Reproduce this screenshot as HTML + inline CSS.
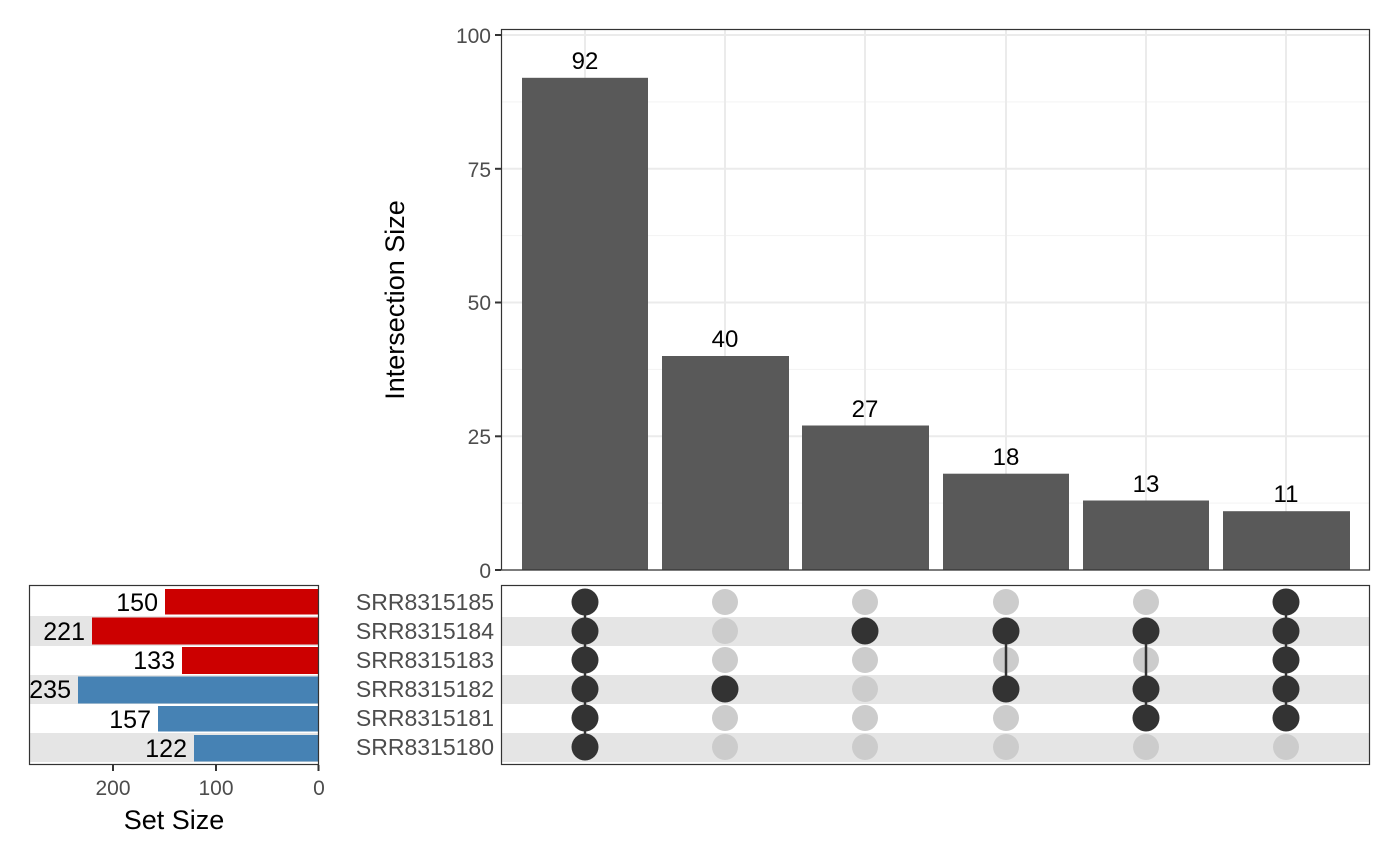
<!DOCTYPE html>
<html><head><meta charset="utf-8"><style>
html,body{margin:0;padding:0;background:#fff}
svg{display:block}
text{font-family:"Liberation Sans",Arial,sans-serif}
</style></head><body>
<svg width="1400" height="865" viewBox="0 0 1400 865" xmlns="http://www.w3.org/2000/svg">
<rect width="1400" height="865" fill="#fff"/>
<g>
  <g stroke="#f3f3f3" stroke-width="1">
    <line x1="501" x2="1370" y1="503.1" y2="503.1"/>
    <line x1="501" x2="1370" y1="369.4" y2="369.4"/>
    <line x1="501" x2="1370" y1="235.6" y2="235.6"/>
    <line x1="501" x2="1370" y1="101.9" y2="101.9"/>
  </g>
  <g stroke="#ebebeb" stroke-width="2">
    <line x1="501" x2="1370" y1="570" y2="570"/>
    <line x1="501" x2="1370" y1="436.3" y2="436.3"/>
    <line x1="501" x2="1370" y1="302.5" y2="302.5"/>
    <line x1="501" x2="1370" y1="168.8" y2="168.8"/>
    <line x1="501" x2="1370" y1="35" y2="35"/>
    <line x1="585" x2="585" y1="29" y2="570"/>
    <line x1="725" x2="725" y1="29" y2="570"/>
    <line x1="865" x2="865" y1="29" y2="570"/>
    <line x1="1006" x2="1006" y1="29" y2="570"/>
    <line x1="1146" x2="1146" y1="29" y2="570"/>
    <line x1="1286" x2="1286" y1="29" y2="570"/>
  </g>
  <g fill="#595959">
    <rect x="522" y="77.8" width="126" height="492.2"/>
    <rect x="662" y="356" width="127" height="214"/>
    <rect x="802" y="425.5" width="127" height="144.5"/>
    <rect x="943" y="473.7" width="126" height="96.3"/>
    <rect x="1083" y="500.5" width="126" height="69.5"/>
    <rect x="1223" y="511.2" width="127" height="58.8"/>
  </g>
  <g font-size="24" fill="#000" text-anchor="middle">
    <text x="585" y="69">92</text>
    <text x="725" y="347">40</text>
    <text x="865" y="417">27</text>
    <text x="1006" y="465">18</text>
    <text x="1146" y="492">13</text>
    <text x="1286" y="502">11</text>
  </g>
  <rect x="501.5" y="29.5" width="868" height="540.5" fill="none" stroke="#333" stroke-width="1.2"/>
  <g stroke="#333" stroke-width="2">
    <line x1="495" x2="501" y1="570" y2="570"/>
    <line x1="495" x2="501" y1="436.3" y2="436.3"/>
    <line x1="495" x2="501" y1="302.5" y2="302.5"/>
    <line x1="495" x2="501" y1="168.8" y2="168.8"/>
    <line x1="495" x2="501" y1="35" y2="35"/>
  </g>
  <g font-size="21" fill="#4d4d4d" text-anchor="end">
    <text x="491" y="578">0</text>
    <text x="491" y="444">25</text>
    <text x="491" y="310">50</text>
    <text x="491" y="177">75</text>
    <text x="491" y="43">100</text>
  </g>
  <text transform="translate(404,300) rotate(-90)" font-size="27" fill="#000" text-anchor="middle">Intersection Size</text>
</g>
<g>
  <rect x="501" y="585" width="869" height="180" fill="#fff"/>
  <g fill="#e5e5e5">
    <rect x="501" y="617" width="869" height="29"/>
    <rect x="501" y="675" width="869" height="29"/>
    <rect x="501" y="733" width="869" height="29"/>
  </g>
  <g fill="#cccccc">
    <circle cx="725" cy="602" r="13"/><circle cx="725" cy="631" r="13"/><circle cx="725" cy="660" r="13"/><circle cx="725" cy="718" r="13"/><circle cx="725" cy="747" r="13"/>
    <circle cx="865" cy="602" r="13"/><circle cx="865" cy="660" r="13"/><circle cx="865" cy="689" r="13"/><circle cx="865" cy="718" r="13"/><circle cx="865" cy="747" r="13"/>
    <circle cx="1006" cy="602" r="13"/><circle cx="1006" cy="660" r="13"/><circle cx="1006" cy="718" r="13"/><circle cx="1006" cy="747" r="13"/>
    <circle cx="1146" cy="602" r="13"/><circle cx="1146" cy="660" r="13"/><circle cx="1146" cy="747" r="13"/>
    <circle cx="1286" cy="747" r="13"/>
  </g>
  <g stroke="#333" stroke-width="2.5">
    <line x1="585" x2="585" y1="602" y2="747"/>
    <line x1="1006" x2="1006" y1="631" y2="689"/>
    <line x1="1146" x2="1146" y1="631" y2="718"/>
    <line x1="1286" x2="1286" y1="602" y2="718"/>
  </g>
  <g fill="#333">
    <circle cx="585" cy="602" r="13.5"/><circle cx="585" cy="631" r="13.5"/><circle cx="585" cy="660" r="13.5"/><circle cx="585" cy="689" r="13.5"/><circle cx="585" cy="718" r="13.5"/><circle cx="585" cy="747" r="13.5"/>
    <circle cx="725" cy="689" r="13.5"/>
    <circle cx="865" cy="631" r="13.5"/>
    <circle cx="1006" cy="631" r="13.5"/><circle cx="1006" cy="689" r="13.5"/>
    <circle cx="1146" cy="631" r="13.5"/><circle cx="1146" cy="689" r="13.5"/><circle cx="1146" cy="718" r="13.5"/>
    <circle cx="1286" cy="602" r="13.5"/><circle cx="1286" cy="631" r="13.5"/><circle cx="1286" cy="660" r="13.5"/><circle cx="1286" cy="689" r="13.5"/><circle cx="1286" cy="718" r="13.5"/>
  </g>
  <rect x="501.5" y="585.5" width="868" height="179" fill="none" stroke="#333" stroke-width="1.2"/>
  <g font-size="23" fill="#4d4d4d" text-anchor="end">
    <text x="494" y="610">SRR8315185</text>
    <text x="494" y="639">SRR8315184</text>
    <text x="494" y="668">SRR8315183</text>
    <text x="494" y="697">SRR8315182</text>
    <text x="494" y="726">SRR8315181</text>
    <text x="494" y="755">SRR8315180</text>
  </g>
</g>
<g>
  <g fill="#e5e5e5">
    <rect x="29" y="616" width="290" height="30"/>
    <rect x="29" y="675" width="290" height="29"/>
    <rect x="29" y="733" width="290" height="29"/>
  </g>
  <g fill="#cc0000">
    <rect x="165" y="589" width="153" height="25.5"/>
    <rect x="92" y="617.5" width="226" height="27"/>
    <rect x="182" y="647" width="136" height="27"/>
  </g>
  <g fill="#4682b4">
    <rect x="78" y="676.5" width="240" height="27"/>
    <rect x="158" y="706" width="160" height="25.5"/>
    <rect x="194" y="735" width="124" height="26.5"/>
  </g>
  <g font-size="25" fill="#000" text-anchor="end">
    <text x="158" y="611">150</text>
    <text x="85" y="640">221</text>
    <text x="175" y="669">133</text>
    <text x="71" y="698">235</text>
    <text x="151" y="728">157</text>
    <text x="187" y="757">122</text>
  </g>
  <rect x="29.5" y="585.5" width="289" height="179" fill="none" stroke="#333" stroke-width="1.2"/>
  <g stroke="#333" stroke-width="2">
    <line x1="113" x2="113" y1="765" y2="771"/>
    <line x1="216" x2="216" y1="765" y2="771"/>
    <line x1="318.5" x2="318.5" y1="765" y2="771"/>
  </g>
  <g font-size="21" fill="#4d4d4d" text-anchor="middle">
    <text x="113" y="795">200</text>
    <text x="216" y="795">100</text>
    <text x="319" y="795">0</text>
  </g>
  <text x="174" y="829" font-size="27" fill="#000" text-anchor="middle">Set Size</text>
</g>
</svg>
</body></html>
